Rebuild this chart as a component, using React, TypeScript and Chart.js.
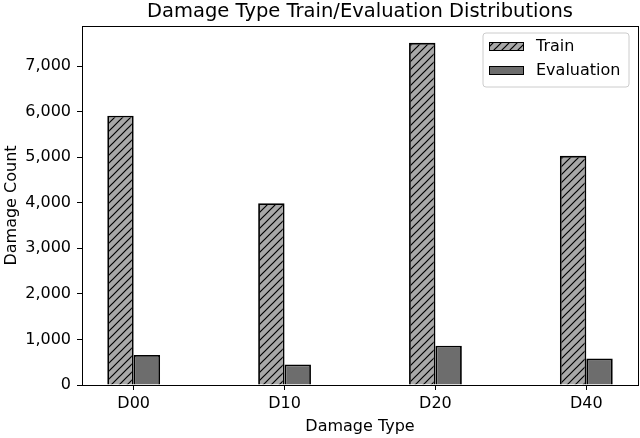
import { useEffect, useRef } from "react";
import { Chart, registerables } from "chart.js";

Chart.register(...registerables);

const categories = ["D00", "D10", "D20", "D40"];
const trainCounts = [5910, 3990, 7510, 5030];
const evalCounts = [660, 450, 860, 580];
const yTickValues = [0, 1000, 2000, 3000, 4000, 5000, 6000, 7000];
const seriesNames = ["Train", "Evaluation"];
const titleText = "Damage Type Train/Evaluation Distributions";
const xTitleText = "Damage Type";
const yTitleText = "Damage Count";

const FONT = "'DejaVu Sans', sans-serif";
const TRAIN_BG = "#a8a8a8";
const EVAL_BG = "#6d6d6d";

function makeHatch(bg: string): CanvasPattern | string {
  const c = document.createElement("canvas");
  const s = 8;
  c.width = s;
  c.height = s;
  const ctx = c.getContext("2d");
  if (!ctx) return bg;
  ctx.fillStyle = bg;
  ctx.fillRect(0, 0, s, s);
  ctx.strokeStyle = "#000";
  ctx.lineWidth = 1.2;
  ctx.beginPath();
  ctx.moveTo(-1, s + 1);
  ctx.lineTo(s + 1, -1);
  ctx.moveTo(-1, 1);
  ctx.lineTo(1, -1);
  ctx.moveTo(s - 1, s + 1);
  ctx.lineTo(s + 1, s - 1);
  ctx.stroke();
  return ctx.createPattern(c, "repeat") || bg;
}

export default function App() {
  const ref = useRef<HTMLCanvasElement | null>(null);

  useEffect(() => {
    document.body.style.margin = "0";
    const canvas = ref.current;
    if (!canvas) return;
    const hatch = makeHatch(TRAIN_BG);

    const framePlugin = {
      id: "frame",
      afterDraw(chart: any) {
        const { ctx, chartArea } = chart;
        ctx.save();
        ctx.strokeStyle = "#000";
        ctx.lineWidth = 1;
        ctx.strokeRect(
          Math.round(chartArea.left) + 0.5,
          Math.round(chartArea.top) + 0.5,
          Math.round(chartArea.right - chartArea.left),
          Math.round(chartArea.bottom - chartArea.top)
        );
        ctx.restore();
      },
    };

    const titlePlugin = {
      id: "mplTitle",
      afterDraw(chart: any) {
        const { ctx, chartArea } = chart;
        ctx.save();
        ctx.fillStyle = "#000";
        ctx.font = `19.5px ${FONT}`;
        ctx.textAlign = "center";
        ctx.textBaseline = "middle";
        ctx.fillText(titleText, (chartArea.left + chartArea.right) / 2, 12);
        ctx.restore();
      },
    };

    const legendPlugin = {
      id: "mplLegend",
      afterDraw(chart: any) {
        const { ctx, chartArea } = chart;
        const x0 = chartArea.right - 155;
        const y0 = chartArea.top + 7;
        const w = 146;
        const h = 54;
        ctx.save();
        ctx.beginPath();
        const r = 3;
        ctx.moveTo(x0 + r, y0);
        ctx.lineTo(x0 + w - r, y0);
        ctx.arcTo(x0 + w, y0, x0 + w, y0 + r, r);
        ctx.lineTo(x0 + w, y0 + h - r);
        ctx.arcTo(x0 + w, y0 + h, x0 + w - r, y0 + h, r);
        ctx.lineTo(x0 + r, y0 + h);
        ctx.arcTo(x0, y0 + h, x0, y0 + h - r, r);
        ctx.lineTo(x0, y0 + r);
        ctx.arcTo(x0, y0, x0 + r, y0, r);
        ctx.closePath();
        ctx.fillStyle = "rgba(255,255,255,0.8)";
        ctx.fill();
        ctx.strokeStyle = "#cccccc";
        ctx.lineWidth = 1;
        ctx.stroke();

        const fills = [hatch, EVAL_BG];
        const rows = [y0 + 13, y0 + 37];
        seriesNames.forEach((name, i) => {
          const cy = rows[i];
          ctx.fillStyle = fills[i] as any;
          ctx.fillRect(x0 + 6, cy - 4, 34, 8);
          ctx.strokeStyle = "#000";
          ctx.lineWidth = 1;
          ctx.strokeRect(x0 + 6.5, cy - 3.5, 34, 8);
          ctx.fillStyle = "#000";
          ctx.font = `16px ${FONT}`;
          ctx.textAlign = "left";
          ctx.textBaseline = "middle";
          ctx.fillText(name, x0 + 53, cy + 1);
        });
        ctx.restore();
      },
    };

    const tickFont = { family: FONT, size: 16 };

    const chart = new Chart(canvas, {
      type: "bar",
      data: {
        datasets: [
          {
            label: seriesNames[0],
            data: trainCounts.map((v, i) => ({ x: i, y: v })),
            backgroundColor: hatch as any,
            borderColor: "#000",
            borderWidth: 1.8,
          },
          {
            label: seriesNames[1],
            data: evalCounts.map((v, i) => ({ x: i, y: v })),
            backgroundColor: EVAL_BG,
            borderColor: "#000",
            borderWidth: 1.8,
          },
        ],
      },
      options: {
        animation: false,
        responsive: false,
        maintainAspectRatio: false,
        devicePixelRatio: 1,
        categoryPercentage: 0.35,
        barPercentage: 1,
        layout: { padding: { top: 26, right: 2, left: 0, bottom: 0 } },
        plugins: {
          legend: { display: false },
          title: { display: false },
          tooltip: { enabled: false },
        },
        scales: {
          x: {
            type: "linear",
            min: -0.3425,
            max: 3.3425,
            offset: false,
            afterBuildTicks: (scale: any) => {
              scale.ticks = categories.map((_, i) => ({ value: i }));
            },
            afterFit: (scale: any) => {
              scale.height = 53;
            },
            ticks: {
              autoSkip: false,
              maxRotation: 0,
              color: "#000",
              font: tickFont,
              padding: 4,
              callback: (v: any) => categories[v] ?? "",
            },
            grid: {
              offset: false,
              drawOnChartArea: false,
              drawTicks: true,
              tickLength: 5,
              tickColor: "#000",
            },
            border: { display: false },
            title: {
              display: true,
              text: xTitleText,
              color: "#000",
              font: tickFont,
              padding: { top: 0, bottom: 2 },
            },
          },
          y: {
            type: "linear",
            min: 0,
            max: 7880,
            afterBuildTicks: (scale: any) => {
              scale.ticks = yTickValues.map((v) => ({ value: v }));
            },
            afterFit: (scale: any) => {
              scale.width = 82;
            },
            ticks: {
              color: "#000",
              font: tickFont,
              padding: 6,
              callback: (v: any) => Number(v).toLocaleString("en-US"),
            },
            grid: {
              offset: false,
              drawOnChartArea: false,
              drawTicks: true,
              tickLength: 5,
              tickColor: "#000",
            },
            border: { display: false },
            title: {
              display: true,
              text: yTitleText,
              color: "#000",
              font: tickFont,
              padding: { top: 2, bottom: 0 },
            },
          },
        },
      },
      plugins: [framePlugin, titlePlugin, legendPlugin],
    });

    return () => chart.destroy();
  }, []);

  return (
    <div style={{ width: 640, height: 438, background: "#fff" }}>
      <canvas ref={ref} width={640} height={438} style={{ display: "block" }} />
    </div>
  );
}
